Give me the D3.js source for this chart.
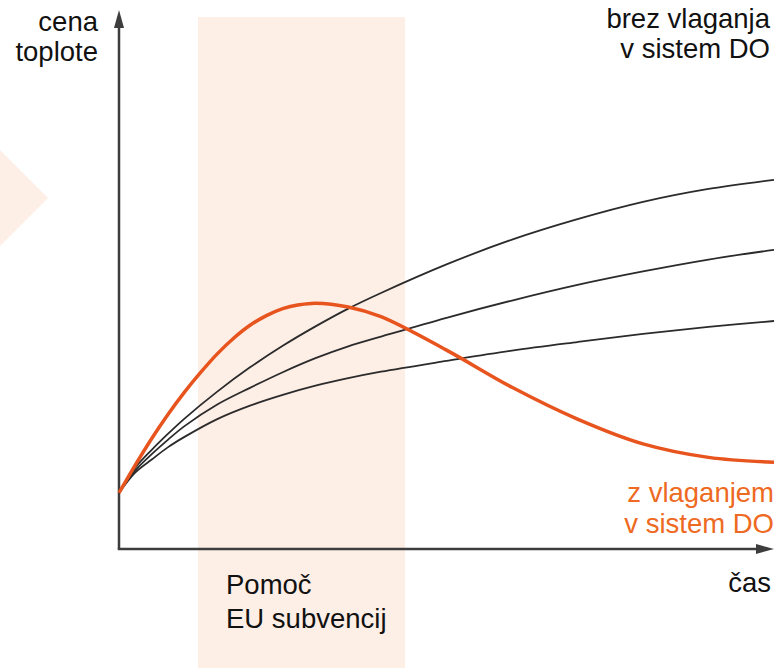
<!DOCTYPE html>
<html>
<head>
<meta charset="utf-8">
<script src="https://cdn.jsdelivr.net/npm/d3@7"></script>
<style>
  body { margin: 0; background: #fff; }
  text { font-family: "Liberation Sans", Arial, sans-serif; font-size: 27.5px; }
</style>
</head>
<body>
<div id="chart"></div>
<script>
// chart size
let width = 774;
let height = 668;

// time axis (0..100) and price axis (0..100), no ticks in the original
let time = [0, 2.5, 5, 7.5, 10, 15, 20, 25, 30, 35, 40, 50, 60, 70, 80, 90, 100];

// three scenarios without investment in the district heating system
let noInvestHigh = [10.4, 15.1, 18.4, 21.4, 24.2, 29.2, 33.7, 37.7, 41.3, 44.6, 47.5, 52.8, 57.4, 61.2, 64.4, 66.8, 68.5];
let noInvestMid  = [10.4, 14.6, 17.6, 20.3, 22.8, 26.8, 29.9, 32.8, 35.4, 37.6, 39.4, 42.9, 46.1, 49.0, 51.5, 53.7, 55.5];
let noInvestLow  = [10.4, 14.2, 16.6, 18.9, 20.8, 24.1, 26.6, 28.6, 30.3, 31.7, 32.9, 34.9, 36.8, 38.4, 39.9, 41.2, 42.3];

// with investment (denser sampling around the peak)
let investTime = [0, 2.5, 5, 7.5, 10, 12.5, 15, 17.5, 20, 22.5, 25, 27.5, 30, 35, 40, 50, 60, 70, 80, 90, 100];
let withInvest = [10.4, 15.6, 20.5, 25.0, 29.1, 32.8, 36.2, 39.1, 41.5, 43.3, 44.6, 45.3, 45.6, 44.9, 43.1, 36.9, 30.0, 24.1, 19.5, 17.0, 16.1];

// EU subsidy period (time units) and band top
let subsidyPeriod = [12.06, 43.66];
let subsidyTop = 98.7;

let darkColor = "#2b2b2b";
let orange = "#e8541e";
let orangeText = "#ee6a22";
let bandColor = "#fdeee6";

let x = d3.scaleLinear().domain([0, 100]).range([119, 774]);
let y = d3.scaleLinear().domain([0, 100]).range([549, 10]);

let svg = d3.select("#chart")
  .append("svg")
  .attr("width", width)
  .attr("height", height);

// decorative arrow shape on the left edge
svg.append("path")
  .attr("d", "M0,150 L48,198 L0,246 Z")
  .attr("fill", bandColor);

// subsidy band
svg.append("rect")
  .attr("x", x(subsidyPeriod[0]))
  .attr("y", y(subsidyTop))
  .attr("width", x(subsidyPeriod[1]) - x(subsidyPeriod[0]))
  .attr("height", height - y(subsidyTop))
  .attr("fill", bandColor);

// axes with arrow heads
let axisColor = "#3d3d3d";
svg.append("line")
  .attr("x1", x(0)).attr("y1", y(0))
  .attr("x2", x(0)).attr("y2", y(100) + 10)
  .attr("stroke", axisColor)
  .attr("stroke-width", 2.5);
svg.append("path")
  .attr("d", "M" + x(0) + "," + y(100) + " l-5,18 l10,0 Z")
  .attr("fill", axisColor);

svg.append("line")
  .attr("x1", x(0) - 1.25).attr("y1", y(0))
  .attr("x2", x(100) - 10).attr("y2", y(0))
  .attr("stroke", axisColor)
  .attr("stroke-width", 2.5);
svg.append("path")
  .attr("d", "M" + x(100) + "," + y(0) + " l-18,-5 l0,10 Z")
  .attr("fill", axisColor);

// curves
function lineFor(ts) {
  return d3.line()
    .x(function(d, i) { return x(ts[i]); })
    .y(function(d) { return y(d); })
    .curve(d3.curveCatmullRom.alpha(0.5));
}

[noInvestHigh, noInvestMid, noInvestLow].forEach(function(series) {
  svg.append("path")
    .attr("d", lineFor(time)(series))
    .attr("fill", "none")
    .attr("stroke", darkColor)
    .attr("stroke-width", 1.8);
});

svg.append("path")
  .attr("d", lineFor(investTime)(withInvest))
  .attr("fill", "none")
  .attr("stroke", orange)
  .attr("stroke-width", 3.5);

// labels
function addLabel(lines, px, py, anchor, color, lineGap) {
  let t = svg.append("text")
    .attr("text-anchor", anchor)
    .attr("fill", color);
  lines.forEach(function(s, i) {
    t.append("tspan")
      .attr("x", px)
      .attr("y", py + i * lineGap)
      .text(s);
  });
}

addLabel(["cena", "toplote"], 98, 31, "end", "#111", 30);
addLabel(["brez vlaganja", "v sistem DO"], 770, 28, "end", "#111", 30);
addLabel(["z vlaganjem", "v sistem DO"], 774, 502, "end", orangeText, 31);
addLabel(["čas"], 771, 592, "end", "#111", 30);
addLabel(["Pomoč", "EU subvencij"], 226, 594, "start", "#111", 34);
</script>
</body>
</html>
